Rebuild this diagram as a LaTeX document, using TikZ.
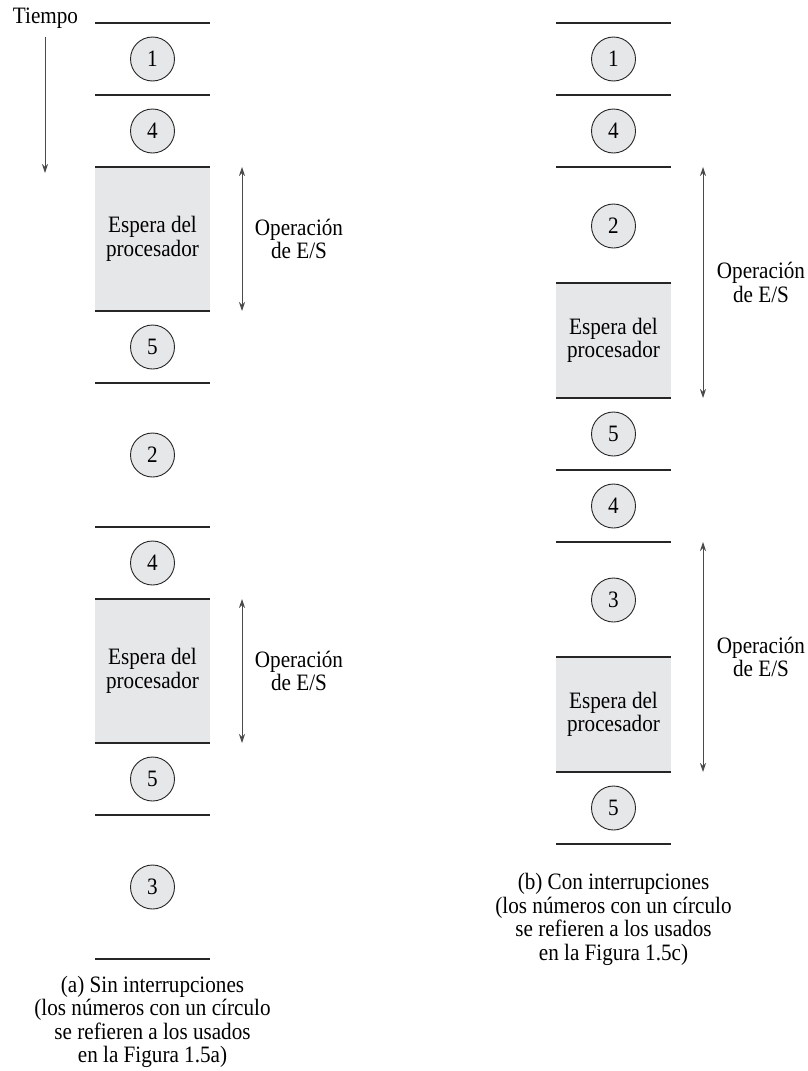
\documentclass[tikz,border=0pt]{standalone}
\usepackage{fontspec}
\setmainfont{Liberation Serif}
\newfontfamily\figfont[FakeStretch=0.9]{Liberation Serif}
\usetikzlibrary{arrows.meta}
\definecolor{boxgray}{HTML}{E6E7E8}
\definecolor{arrgray}{HTML}{4A4A4A}
\begin{document}
\begin{tikzpicture}[x=1pt,y=-1pt,
  txt/.style={font=\figfont\fontsize{23.5}{23.5}\selectfont},
  sep/.style={line width=1.2pt, draw=black!85},
  num/.style={circle, draw=black!85, line width=0.9pt, fill=boxgray, minimum size=44pt, inner sep=0pt, txt},
  waitbox/.style={fill=boxgray, draw=none, minimum width=115pt, inner sep=0pt, align=center, txt},
  lbl/.style={align=center, txt},
  io/.style={{Stealth[length=9pt,width=6pt]}-{Stealth[length=9pt,width=6pt]}, line width=0.9pt, draw=arrgray},
  tarrow/.style={-{Stealth[length=9pt,width=6pt]}, line width=0.9pt, draw=arrgray}
]
\useasboundingbox (0,0) rectangle (808,1071);

% ---------------- Left column (a) ----------------
\node[txt, anchor=base] (tiempo) at (45.5,23) {Tiempo};
\coordinate (t1) at (45,37);
\coordinate (t2) at (45,173);
\draw[tarrow] (t1) -- (t2);

\node[waitbox, minimum height=144pt] (wa1) at (152.5,239) {Espera del\\procesador};
\node[waitbox, minimum height=144pt] (wa2) at (152.5,671) {Espera del\\procesador};

\foreach \y in {23,95,167,311,383,527,599,743,815,959}
  \draw[sep] (95,\y) -- (210,\y);

\node[num] (a1) at (152.5,59) {1};
\node[num] (a4) at (152.5,131) {4};
\node[num] (a5) at (152.5,347) {5};
\node[num] (a2) at (152.5,455) {2};
\node[num] (a4b) at (152.5,563) {4};
\node[num] (a5b) at (152.5,779) {5};
\node[num] (a3) at (152.5,887) {3};

\coordinate (la1) at (242,167);
\coordinate (la2) at (242,311);
\draw[io] (la1) -- (la2);
\node[lbl] (opa1) at (299,239) {Operación\\de E/S};
\coordinate (lb1) at (242,599);
\coordinate (lb2) at (242,743);
\draw[io] (lb1) -- (lb2);
\node[lbl] (opa2) at (299,671) {Operación\\de E/S};

\node[lbl] (capa) at (152.5,1022) {(a) Sin interrupciones\\(los números con un círculo\\se refieren a los usados\\en la Figura 1.5a)};

% ---------------- Right column (b) ----------------
\node[waitbox, minimum height=115pt] (wb1) at (613.5,340.5) {Espera del\\procesador};
\node[waitbox, minimum height=115pt] (wb2) at (613.5,714.5) {Espera del\\procesador};

\foreach \y in {23,95,167,283,398,470,542,657,772,844}
  \draw[sep] (556,\y) -- (671,\y);

\node[num] (b1) at (613.5,59) {1};
\node[num] (b4) at (613.5,131) {4};
\node[num] (b2) at (613.5,226) {2};
\node[num] (b5) at (613.5,434) {5};
\node[num] (b4b) at (613.5,506) {4};
\node[num] (b3) at (613.5,600) {3};
\node[num] (b5b) at (613.5,808) {5};

\coordinate (rb1) at (703,167);
\coordinate (rb2) at (703,398);
\draw[io] (rb1) -- (rb2);
\node[lbl] (opb1) at (761,282.5) {Operación\\de E/S};
\coordinate (rc1) at (703,542);
\coordinate (rc2) at (703,772);
\draw[io] (rc1) -- (rc2);
\node[lbl] (opb2) at (761,657) {Operación\\de E/S};

\node[lbl] (capb) at (613.5,919.5) {(b) Con interrupciones\\(los números con un círculo\\se refieren a los usados\\en la Figura 1.5c)};
\end{tikzpicture}
\end{document}
